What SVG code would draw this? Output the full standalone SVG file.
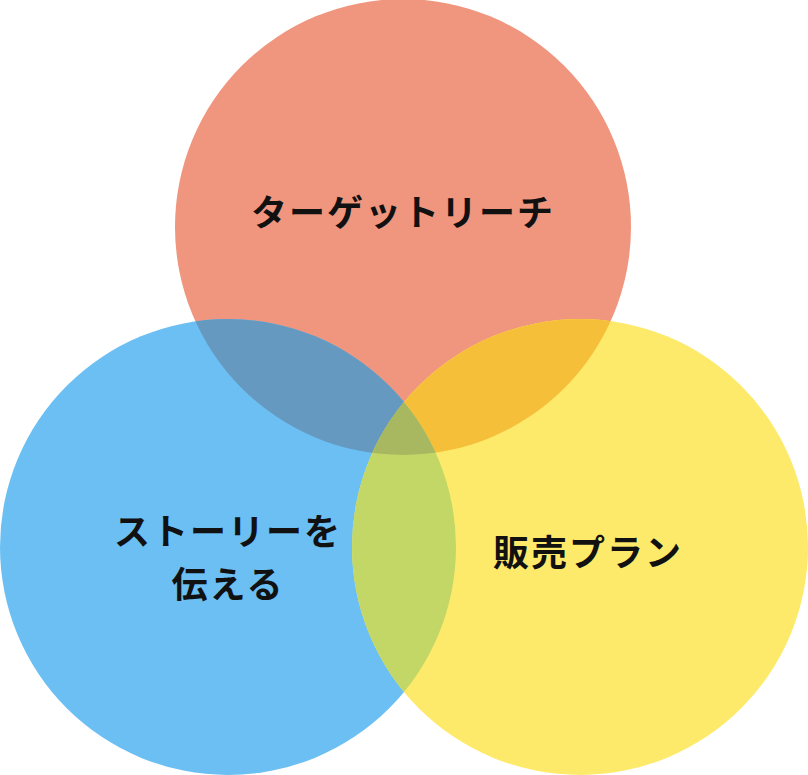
<svg xmlns="http://www.w3.org/2000/svg" width="808" height="775" viewBox="0 0 808 775">
<style>
text{font-family:"Noto Sans CJK JP",sans-serif;font-weight:bold;font-size:36px;fill:#111;text-anchor:middle;letter-spacing:2px}
</style>
<defs>
<clipPath id="cr"><circle cx="403" cy="227" r="228"/></clipPath>
<clipPath id="cb"><circle cx="228" cy="547" r="228"/></clipPath>
<clipPath id="cy"><circle cx="580" cy="547" r="228"/></clipPath>
</defs>
<g id="red"><circle cx="403" cy="227" r="228" fill="#F0957E"/></g>
<g id="blue"><circle cx="228" cy="547" r="228" fill="#6BBFF3"/></g>
<g id="yellow"><circle cx="580" cy="547" r="228" fill="#FDEA6A"/></g>
<g id="overlaps">
<circle cx="228" cy="547" r="228" fill="#6699C0" clip-path="url(#cr)"/>
<circle cx="580" cy="547" r="228" fill="#F6BF3A" clip-path="url(#cr)"/>
<circle cx="580" cy="547" r="228" fill="#C3D767" clip-path="url(#cb)"/>
<g clip-path="url(#cr)"><circle cx="580" cy="547" r="228" fill="#A8B860" clip-path="url(#cb)"/></g>
</g>
<g id="labels">
<text x="403" y="226">ターゲットリーチ</text>
<text x="228" y="545">ストーリーを</text>
<text x="228" y="598">伝える</text>
<text x="588" y="566">販売プラン</text>
</g>
</svg>
